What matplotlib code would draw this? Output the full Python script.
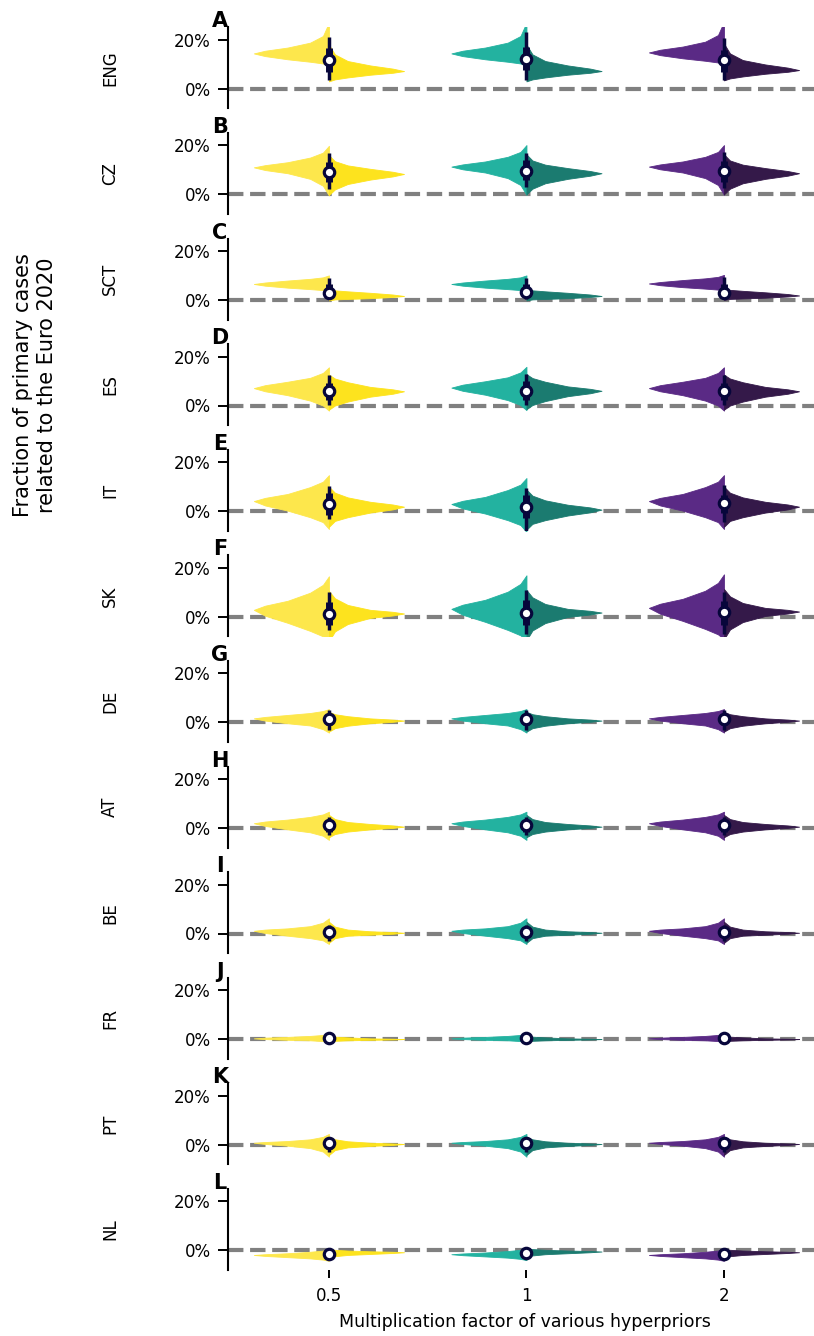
import matplotlib.pyplot as plt
import numpy as np

countries = ["ENG", "CZ", "SCT", "ES", "IT", "SK", "DE", "AT", "BE", "FR", "PT", "NL"]
letters = ["A", "B", "C", "D", "E", "F", "G", "H", "I", "J", "K", "L"]
factors = ["0.5", "1", "2"]

# relative width of a half violin at each outline point (0 = centre, 1 = widest)
kde_width = [0, 0.08, 0.25, 0.55, 0.85, 1.0, 0.85, 0.55, 0.25, 0.08, 0]

# outline heights in % (bottom -> top) matching kde_width, left half
left_y = [
    [9.5, 10.3, 11.0, 12.0, 13.3, 14.4, 15.5, 16.8, 18.8, 21.5, 27.0],
    [-0.5, 3.5, 6.3, 8.6, 9.9, 11.0, 11.9, 13.1, 15.0, 17.0, 19.8],
    [3.6, 4.0, 4.4, 5.0, 5.8, 6.5, 7.1, 7.9, 8.6, 9.2, 10.0],
    [-2.1, 0.0, 2.0, 4.2, 5.8, 7.1, 8.3, 9.7, 11.3, 13.3, 15.6],
    [-7.3, -4.5, -2.5, 0.2, 2.3, 4.1, 5.4, 7.0, 9.8, 12.0, 14.7],
    [-10.0, -8.0, -5.8, -2.5, 0.4, 2.8, 4.5, 6.5, 9.8, 13.0, 16.5],
    [-4.2, -2.8, -1.3, -0.4, 0.7, 1.6, 2.2, 3.0, 3.8, 4.6, 5.4],
    [-4.9, -3.2, -1.8, -0.6, 0.8, 1.9, 2.6, 3.4, 4.5, 5.5, 6.6],
    [-4.3, -2.8, -1.9, -0.9, 0.2, 1.1, 1.6, 2.1, 3.0, 4.4, 6.2],
    [-1.2, -0.8, -0.5, -0.3, 0.0, 0.3, 0.6, 0.9, 1.3, 1.7, 2.2],
    [-4.9, -2.8, -1.4, -0.4, 0.3, 0.8, 1.1, 1.5, 2.2, 3.2, 4.4],
    [-4.3, -3.8, -3.3, -2.8, -2.3, -1.9, -1.6, -1.2, -0.6, -0.1, 0.4],
]

# same for the right half
right_y = [
    [3.0, 3.8, 4.6, 5.7, 6.5, 7.2, 8.2, 9.5, 11.3, 14.0, 18.0],
    [-0.3, 2.0, 4.2, 6.0, 7.3, 8.3, 9.2, 10.4, 11.8, 13.5, 16.0],
    [-0.2, 0.2, 0.4, 0.7, 1.2, 1.6, 2.2, 2.9, 3.5, 3.9, 4.3],
    [-1.7, 0.0, 1.6, 3.6, 4.8, 5.8, 6.6, 7.6, 9.5, 11.0, 12.6],
    [-6.4, -4.0, -2.5, -0.6, 0.7, 1.8, 2.7, 3.8, 5.6, 7.5, 10.0],
    [-10.0, -6.0, -3.0, -0.5, 0.5, 1.3, 2.0, 2.8, 4.8, 7.5, 10.5],
    [-3.8, -2.4, -1.4, -0.4, 0.2, 0.7, 1.1, 1.6, 2.5, 3.3, 4.3],
    [-3.8, -2.5, -1.5, -0.6, 0.0, 0.5, 1.0, 1.6, 2.4, 3.6, 5.3],
    [-3.8, -1.9, -0.9, -0.5, -0.1, 0.3, 0.6, 0.9, 1.6, 2.8, 4.8],
    [-1.0, -0.7, -0.5, -0.3, -0.15, 0.0, 0.15, 0.3, 0.7, 1.0, 1.4],
    [-4.2, -2.2, -1.1, -0.5, -0.1, 0.3, 0.5, 0.8, 1.4, 2.2, 3.3],
    [-3.0, -2.4, -1.9, -1.5, -1.1, -0.8, -0.6, -0.4, -0.1, 0.2, 0.5],
]

# vertical offset of each violin per factor (%)
col_shift = [
    [0, 0, 0.4], [0, 0.3, 0.3], [0, 0, 0.2], [0, 0.2, 0],
    [0, -1.2, 0], [0, 0.4, 0.8], [0, 0, 0], [0, 0, 0],
    [0, 0, 0], [0, 0, 0], [0, 0, 0], [0, 0.3, 0],
]

# inner box: whisker low, q1, median, q3, whisker high (%)
whisk_lo = [
    [3.5, 3.5, 3.5], [2.0, 2.9, 2.5], [0.5, 0.5, 0.5], [0.1, 0.1, 0.1],
    [-3.2, -8.0, -4.4], [-5.5, -6.9, -7.0], [-3.1, -3.1, -3.1], [-2.9, -2.9, -2.9],
    [-2.9, -2.9, -2.9], [-0.8, -0.8, -0.8], [-2.9, -2.9, -2.9], [-3.0, -2.6, -3.0],
]
box_q1 = [
    [6.9, 7.6, 6.9], [5.1, 5.8, 5.1], [2.0, 2.0, 2.0], [2.4, 2.4, 2.4],
    [-1.6, -3.0, -0.9], [-3.5, -3.5, -3.5], [-1.1, -1.1, -1.1], [-1.6, -1.6, -1.6],
    [-1.6, -1.6, -1.6], [-0.3, -0.3, -0.3], [-1.9, -1.9, -1.9], [-2.4, -2.0, -2.4],
]
box_med = [
    [11.6, 12.1, 11.6], [9.2, 9.6, 9.6], [3.0, 3.2, 3.0], [6.0, 6.0, 6.0],
    [2.9, 1.7, 3.3], [1.3, 1.5, 2.0], [1.2, 1.2, 1.2], [1.2, 1.2, 1.2],
    [0.5, 0.5, 0.5], [0.3, 0.3, 0.3], [0.6, 0.6, 0.6], [-1.6, -1.2, -1.6],
]
box_q3 = [
    [16.5, 17.1, 15.8], [13.3, 14.0, 13.6], [6.5, 6.5, 6.5], [9.2, 9.9, 9.2],
    [7.3, 6.5, 6.5], [6.0, 6.7, 6.5], [3.0, 3.0, 3.0], [3.2, 3.2, 3.2],
    [2.1, 2.1, 2.1], [0.9, 0.9, 0.9], [1.6, 1.6, 1.6], [-0.8, -0.4, -0.8],
]
whisk_hi = [
    [21.2, 23.3, 20.6], [16.7, 16.7, 17.4], [8.8, 9.0, 9.2], [12.3, 12.9, 12.6],
    [10.4, 9.3, 10.7], [10.1, 11.1, 10.0], [5.0, 5.0, 5.0], [4.6, 4.6, 4.6],
    [3.5, 3.5, 3.5], [1.6, 1.6, 1.6], [2.6, 2.6, 2.6], [0.2, 0.6, 0.2],
]

light = ["#fde74c", "#23b2a0", "#5a2a85"]
dark = ["#fde31e", "#1b7b70", "#341949"]
navy = "#07063b"

W, H = 814, 1336
half = 0.38
fig = plt.figure(figsize=(W / 100, H / 100), dpi=100)

for i, country in enumerate(countries):
    top = 27.45 + 105.6 * i
    ax = fig.add_axes([228 / W, 1 - (top + 80.85) / H, 594.75 / W, 80.85 / H])
    wid = np.array(kde_width) * half
    for j in range(len(factors)):
        s = col_shift[i][j]
        yl = np.array(left_y[i]) + s
        yr = np.array(right_y[i]) + s
        ax.fill_betweenx(yl, j - wid, j, color=light[j], lw=0.6, ec=light[j], zorder=3)
        ax.fill_betweenx(yr, j, j + wid, color=dark[j], lw=0.6, ec=dark[j], zorder=3)
        ax.vlines(j, whisk_lo[i][j], whisk_hi[i][j], color=navy, lw=2.5, zorder=4)
        ax.vlines(j, box_q1[i][j], box_q3[i][j], color=navy, lw=5, zorder=4)
        ax.plot(j, box_med[i][j], "o", ms=7.5, mfc="white", mec=navy, mew=2.3, zorder=5)
    ax.axhline(0, color="grey", ls="--", lw=3, zorder=2)

    ax.set_xlim(-0.511, 2.5)
    ax.set_ylim(-8, 25)
    for side in ["top", "right", "bottom"]:
        ax.spines[side].set_visible(False)
    ax.spines["left"].set_linewidth(1.5)
    ax.set_yticks([0, 20])
    ax.set_yticklabels(["0%", "20%"])
    ax.tick_params(axis="y", length=7, width=1.4, pad=5.5, labelsize=12)
    if i == len(countries) - 1:
        ax.set_xticks(range(len(factors)))
        ax.set_xticklabels(factors)
        ax.tick_params(axis="x", length=6, width=1.4, pad=6, labelsize=12)
        ax.set_xlabel("Multiplication factor of various hyperpriors", fontsize=12.5, labelpad=6)
    else:
        ax.set_xticks([])

    ax.text(-0.198, 0.5, country, transform=ax.transAxes, rotation=90,
            ha="center", va="center", fontsize=12)
    ax.text(-0.0135, 1.0, letters[i], transform=ax.transAxes, ha="center",
            va="baseline", fontsize=15, fontweight="bold")

fig.text(35 / W, 1 - 385 / H, "Fraction of primary cases\nrelated to the Euro 2020",
         rotation=90, ha="center", va="center", fontsize=15)

fig.savefig("out.png", dpi=100)
